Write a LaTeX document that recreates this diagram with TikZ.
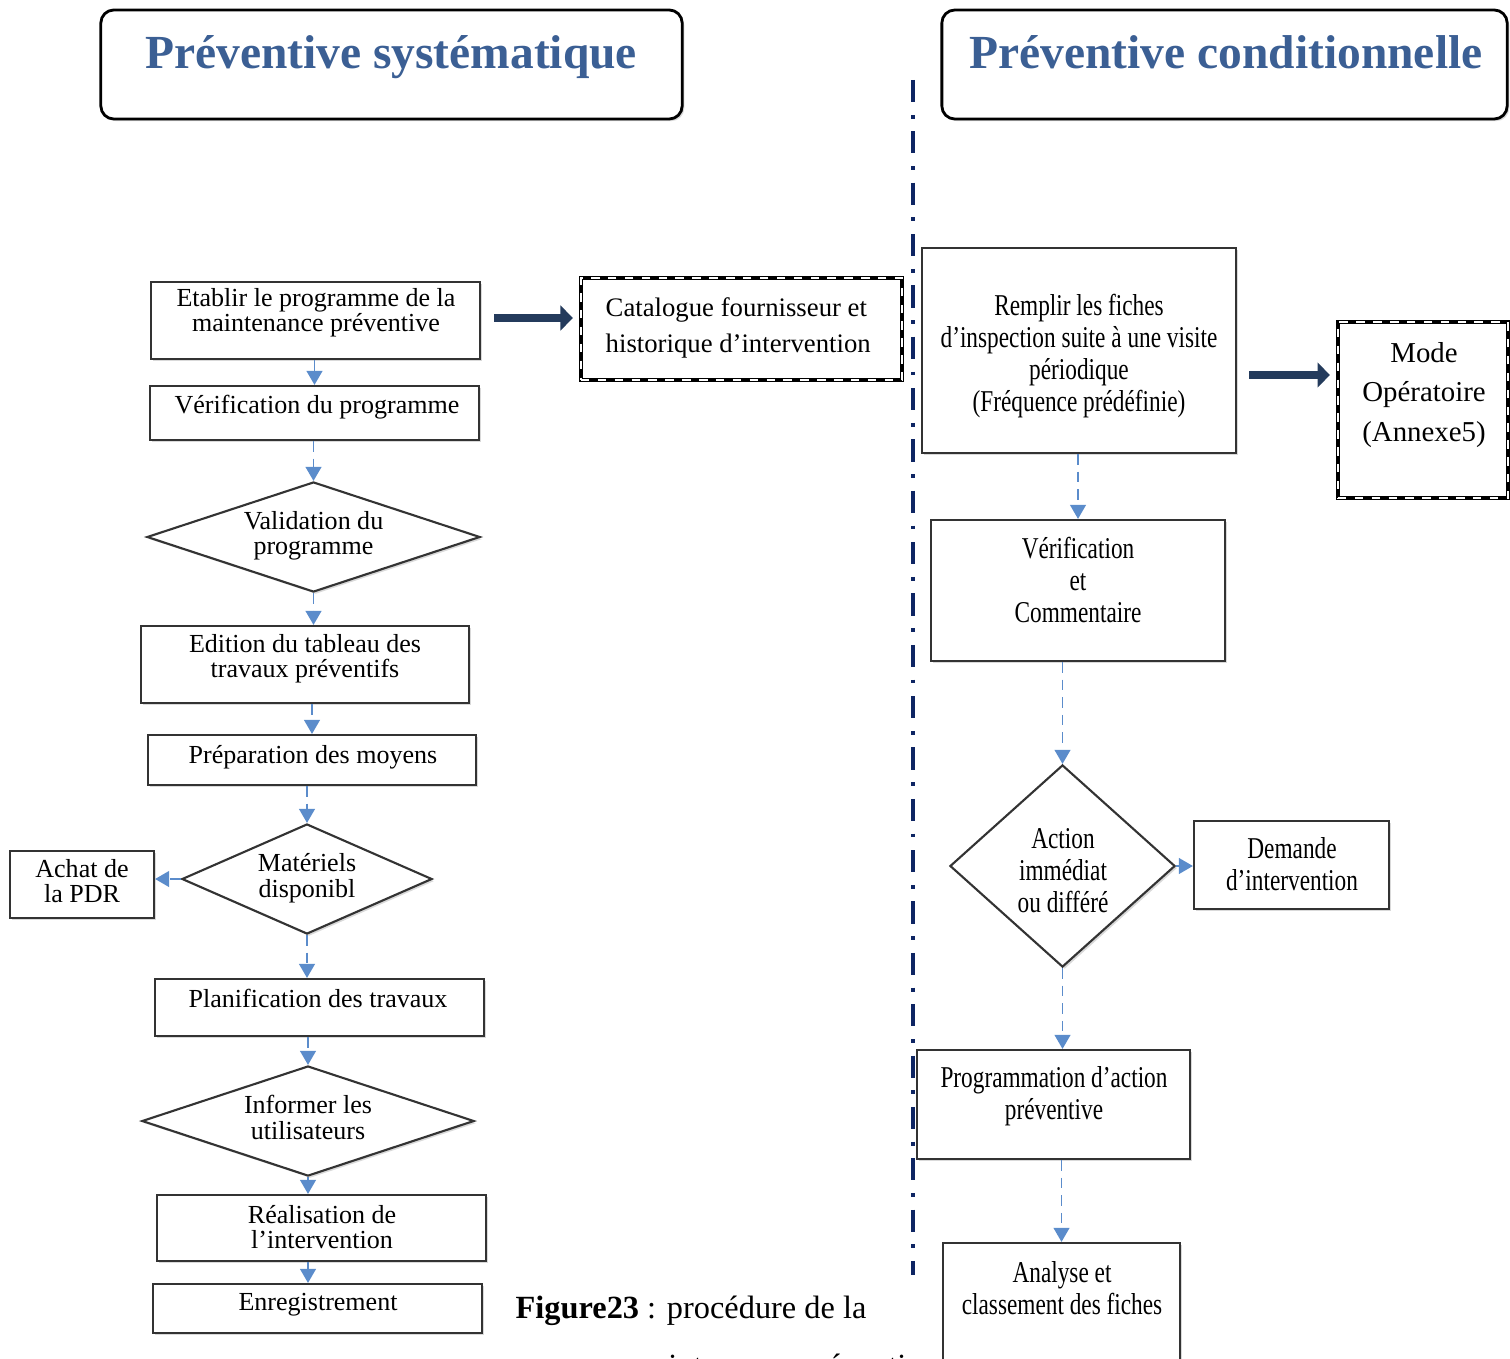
\documentclass[tikz,border=0pt]{standalone}
\usepackage{fontspec}
\setmainfont{Liberation Serif}
\newfontfamily\narrowfont[FakeStretch=0.77]{Liberation Serif}
\usepackage{xcolor}
\usetikzlibrary{arrows.meta, positioning, shapes.geometric, shadows}
\definecolor{titleblue}{HTML}{3B5F94}
\definecolor{flowblue}{HTML}{5B8CCB}
\definecolor{arrownavy}{HTML}{243B5C}
\definecolor{divnavy}{HTML}{0E2563}

\tikzset{
  box/.style={draw=black!80, line width=0.6pt, fill=white, inner sep=0pt,
    drop shadow={shadow xshift=0.6pt, shadow yshift=-0.6pt, opacity=0.3}},
  titlebox/.style={box, rounded corners=0.13cm, draw=black, line width=0.8pt},
  dashbox/.style={draw=black, line width=1.2pt, fill=white, inner sep=0pt,
    postaction={draw=white, line width=0.45pt, dash pattern=on 2.4pt off 2.4pt}},
  diam/.style={box, diamond, inner sep=0pt},
  titletext/.style={text=titleblue, font=\fontsize{13.5}{16}\selectfont\bfseries, inner sep=0pt, anchor=base},
  lefttext/.style={font=\fontsize{7.4}{7.1}\selectfont, align=center, inner sep=0pt},
  righttext/.style={font=\narrowfont\fontsize{8.6}{9.1}\selectfont, align=center, inner sep=0pt},
  flow/.style={draw=flowblue, line width=0.5pt, dash pattern=on 3pt off 2pt,
    -{Triangle[width=4.5pt,length=4pt]}},
  bigarrow/.style={draw=arrownavy, line width=2.2pt, -{Triangle[width=7pt,length=3.5pt]}},
  divider/.style={draw=divnavy, line width=1.1pt,
    dash pattern=on 6.3pt off 3.6pt on 1.1pt off 3.6pt}
}

\begin{document}
\begin{tikzpicture}[x=0.01cm, y=-0.01cm]
  \useasboundingbox (0,0) rectangle (1510,1358);
  \clip (0,0) rectangle (1510,1358);

  \node[titlebox, minimum width=5.81cm, minimum height=1.09cm] (systbox) at (391.5,64.5) {};
  \node[titletext] (systtext) at (391,69) {Préventive systématique};
  \node[titlebox, minimum width=5.65cm, minimum height=1.09cm] (condbox) at (1224.5,64.5) {};
  \node[titletext] (condtext) at (1226,69) {Préventive conditionnelle};

  \draw[divider] (913,80) -- (913,1275);

  % préventive systématique
  \node[box, minimum width=3.29cm, minimum height=0.77cm] (etab) at (315.5,320.5) {};
  \node[lefttext] (etabtext) at (316,313) {Etablir le programme de la\\maintenance préventive};
  \node[box, minimum width=3.29cm, minimum height=0.54cm] (verif) at (314.5,413) {};
  \node[lefttext] (veriftext) at (317,407) {Vérification du programme};
  \node[diam, minimum width=3.33cm, minimum height=1.10cm, aspect=3] (valid) at (313.5,537)
    {\fontsize{7.4}{7.1}\selectfont\begin{tabular}{@{}c@{}}Validation du\\programme\end{tabular}};
  \node[box, minimum width=3.28cm, minimum height=0.77cm] (edit) at (305,664.5) {};
  \node[lefttext] (edittext) at (305,659) {Edition du tableau des\\travaux préventifs};
  \node[box, minimum width=3.28cm, minimum height=0.50cm] (prep) at (312,760) {};
  \node[lefttext] (preptext) at (313,757) {Préparation des moyens};
  \node[diam, minimum width=2.50cm, minimum height=1.10cm, aspect=2.3] (mater) at (307,879)
    {\fontsize{7.4}{7.1}\selectfont\begin{tabular}{@{}c@{}}Matériels\\disponibl\end{tabular}};
  \node[box, minimum width=1.44cm, minimum height=0.67cm] (achat) at (82,884.5) {};
  \node[lefttext] (achattext) at (82,881) {Achat de\\la PDR};
  \node[box, minimum width=3.29cm, minimum height=0.57cm] (planif) at (319.5,1007.5) {};
  \node[lefttext] (planiftext) at (318,998) {Planification des travaux};
  \node[diam, minimum width=3.32cm, minimum height=1.10cm, aspect=3] (inform) at (308,1121)
    {\fontsize{7.4}{7.1}\selectfont\begin{tabular}{@{}c@{}}Informer les\\utilisateurs\end{tabular}};
  \node[box, minimum width=3.29cm, minimum height=0.66cm] (realis) at (321.5,1228) {};
  \node[lefttext] (realistext) at (322,1227) {Réalisation de\\l’intervention};
  \node[box, minimum width=3.29cm, minimum height=0.49cm] (enreg) at (317.5,1308.5) {};
  \node[lefttext] (enregtext) at (318,1305) {Enregistrement};

  \node[dashbox, minimum width=3.21cm, minimum height=1.02cm] (catal) at (741.5,329) {};
  \node[anchor=west, align=left, inner sep=0pt, font=\fontsize{7.6}{10.2}\selectfont] (catatext)
    at (605,328) {Catalogue fournisseur et\\historique d’intervention};

  \draw[flow] (etab.south -| verif.north) -- (verif.north);
  \draw[flow] (verif.south -| valid.north) -- (valid.north);
  \draw[flow] (valid.south) -- (valid.south |- edit.north);
  \draw[flow] (edit.south -| prep.north) -- (prep.north);
  \draw[flow] (prep.south -| mater.north) -- (mater.north);
  \draw[flow] (mater.west) -- (mater.west -| achat.east);
  \draw[flow] (mater.south) -- (mater.south |- planif.north);
  \draw[flow] (planif.south -| inform.north) -- (inform.north);
  \draw[flow] (inform.south) -- (inform.south |- realis.north);
  \draw[flow] (realis.south -| inform.south) -- (inform.south |- enreg.north);
  \draw[bigarrow, shorten <=0.13cm, shorten >=0.06cm] ([yshift=0.025cm]etab.east) -- ([yshift=0.025cm]etab.east -| catal.west);

  % préventive conditionnelle
  \node[box, minimum width=3.14cm, minimum height=2.05cm] (rempl) at (1079,350.5) {};
  \node[righttext] (rempltext) at (1079,356) {Remplir les fiches\\d’inspection suite à une visite\\périodique\\(Fréquence prédéfinie)};
  \node[dashbox, minimum width=1.70cm, minimum height=1.76cm] (mode) at (1423,410) {};
  \node[align=center, inner sep=0pt, font=\fontsize{8.2}{11.2}\selectfont] (modetext) at (1424,395)
    {Mode\\Opératoire\\(Annexe5)};
  \node[box, minimum width=2.94cm, minimum height=1.41cm] (verifc) at (1078,590.5) {};
  \node[righttext] (verifctext) at (1078,580) {Vérification\\et\\Commentaire};
  \node[diam, minimum width=2.25cm, minimum height=2.02cm] (action) at (1062.5,866) {};
  \node[righttext] (actiontext) at (1063,871) {Action\\immédiat\\ou différé};
  \node[box, minimum width=1.95cm, minimum height=0.88cm] (demande) at (1291.5,865) {};
  \node[righttext] (demandetext) at (1292,864) {Demande\\d’intervention};
  \node[box, minimum width=2.73cm, minimum height=1.09cm] (progr) at (1053.5,1104.5) {};
  \node[righttext] (progrtext) at (1054,1096) {Programmation d’action\\préventive};
  \node[box, minimum width=2.37cm, minimum height=1.77cm] (analyse) at (1061.5,1331.5) {};
  \node[righttext] (analysetext) at (1062,1288) {Analyse et\\classement des fiches};

  \draw[bigarrow, shorten <=0.12cm, shorten >=0.06cm] ([yshift=-0.245cm]rempl.east) -- ([yshift=-0.245cm]rempl.east -| mode.west);
  \draw[flow] (rempl.south -| verifc.north) -- (verifc.north);
  \draw[flow] (action.north |- verifc.south) -- (action.north);
  \draw[flow] (action.east) -- (action.east -| demande.west);
  \draw[flow] (action.south) -- (action.south |- progr.north);
  \draw[flow] (analyse.north |- progr.south) -- (analyse.north);

  \node[anchor=base west, inner sep=0pt, font=\fontsize{9.2}{12}\selectfont] (caption) at (515,1318)
    {\textbf{Figure23} : procédure de la};
  \node[anchor=base west, inner sep=0pt, font=\fontsize{9.2}{12}\selectfont] (captiontwo) at (628,1376)
    {maintenance préventive};
\end{tikzpicture}
\end{document}
